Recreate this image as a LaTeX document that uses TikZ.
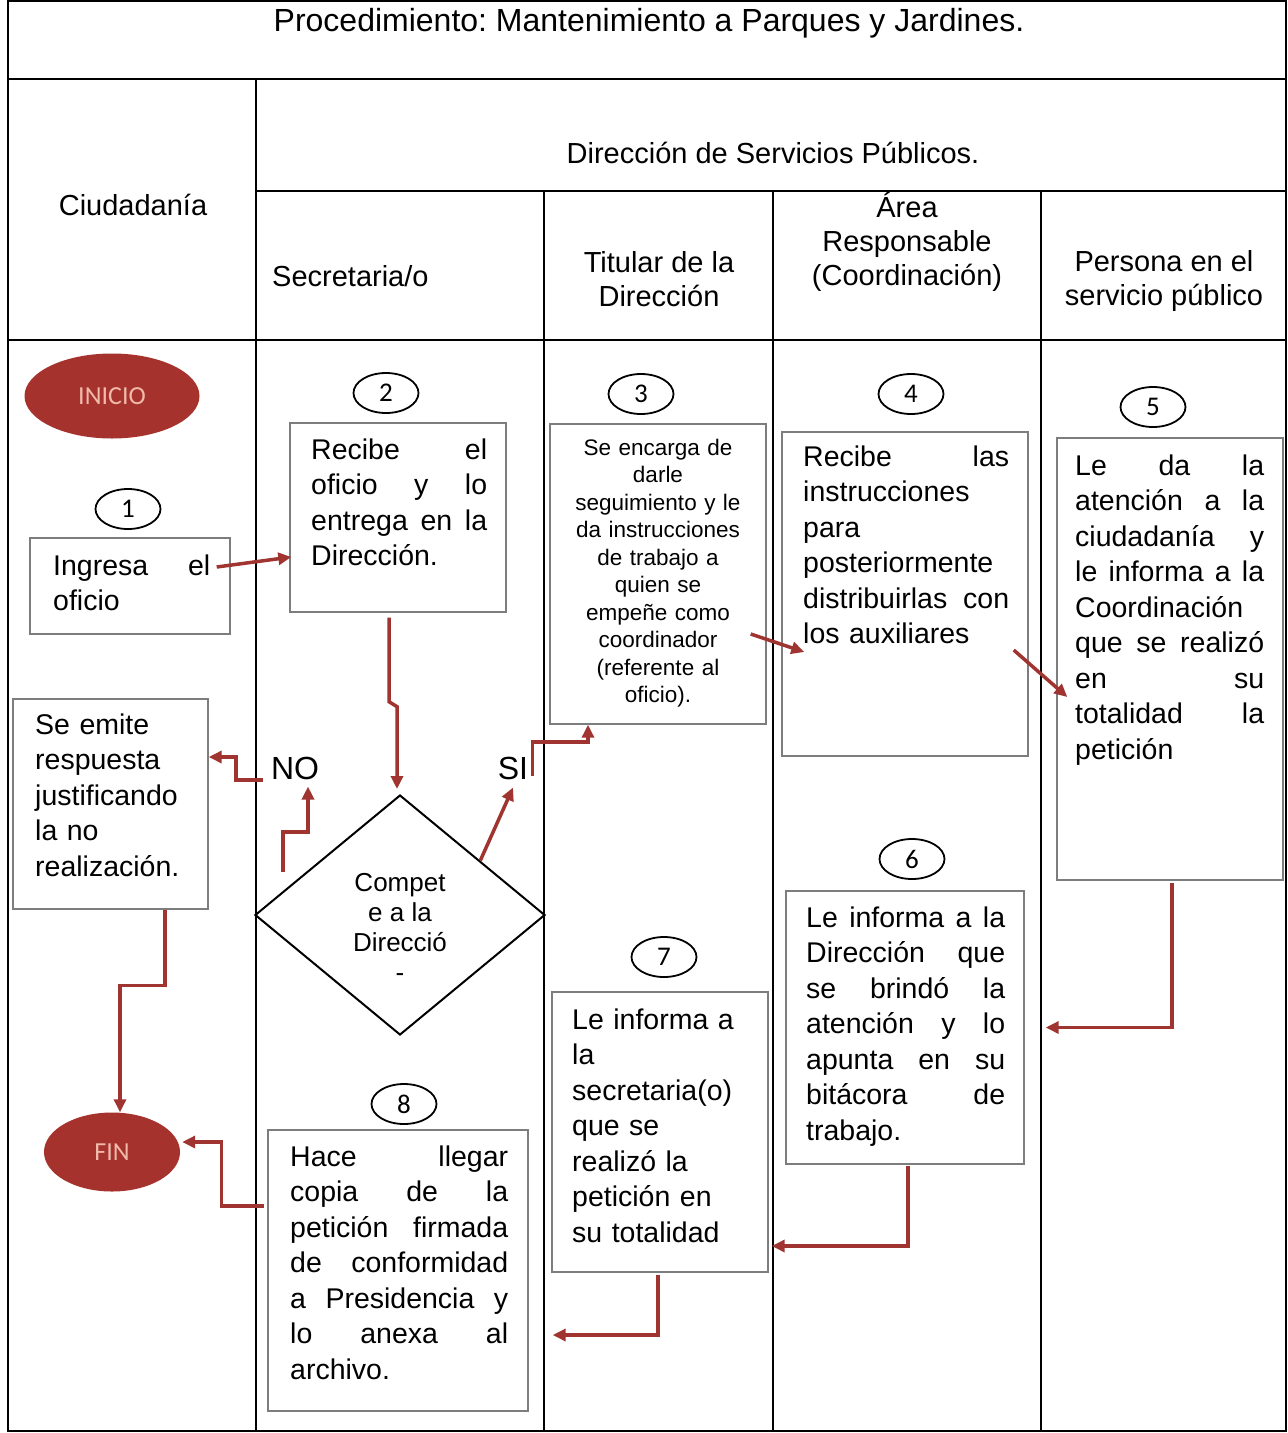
\documentclass[tikz,border=0pt]{standalone}
\usepackage{fontspec}
\setmainfont{Liberation Sans}
\newfontfamily\calib{Carlito}
\usetikzlibrary{arrows.meta,shapes.geometric,calc}
\frenchspacing
\definecolor{arrred}{RGB}{160,52,48}
\definecolor{ovalred}{RGB}{165,50,45}
\definecolor{ovaltext}{RGB}{240,185,170}
\definecolor{boxgray}{RGB}{125,125,125}
\newcommand{\fs}[2]{\fontsize{#1}{#2}\selectfont}
\def\jw{100pt}
\newcommand{\jl}[1]{\leavevmode\hbox to \jw{\spaceskip=0.25em plus 1fil minus 0.05em\relax #1}\\}
\tikzset{
 tline/.style={line width=2pt, draw=black},
 pbox/.style={draw=boxgray, line width=1.4pt, rectangle, inner sep=0pt},
 ptxt/.style={inner sep=0pt, anchor=north west, align=left, font=\fs{28.5}{35.5}, text width=#1, execute at begin node={\def\jw{#1}\strut}},
 stxt/.style={inner sep=0pt, anchor=north, align=center, font=\fs{22.5}{27.5}, execute at begin node=\strut},
 num/.style={ellipse, draw, line width=1.8pt, minimum width=65pt, minimum height=40pt, inner sep=0pt, font=\calib\fs{27}{27}},
 term/.style={ellipse, fill=ovalred, text=ovaltext, inner sep=0pt, font=\calib\fs{26}{26}},
 arr/.style={draw=arrred, line width=3.5pt, -{Triangle[length=13pt,width=12pt]}},
 hdr/.style={font=\fs{29}{34}, align=center, inner sep=0pt},
 lbl/.style={font=\fs{32}{34}, inner sep=0pt},
}
\begin{document}
\begin{tikzpicture}[x=1pt,y=-1pt]
\fill[white] (0,0) rectangle (1288,1433);
\useasboundingbox (0,0) rectangle (1288,1433);
% table
\draw[tline] (8,1) rectangle (1286,1431);
\draw[tline] (8,79) -- (1286,79);
\draw[tline] (256,79) -- (256,1431);
\draw[tline] (256,191) -- (1286,191);
\draw[tline] (8,340) -- (1286,340);
\draw[tline] (544,191) -- (544,1431);
\draw[tline] (773,191) -- (773,1431);
\draw[tline] (1041,191) -- (1041,1431);
% headers
\node[hdr, font=\fs{32}{34}] (title) at (649,23) {Procedimiento: Mantenimiento a Parques y Jardines.};
\node[hdr] (hciu) at (133,205) {Ciudadanía};
\node[hdr] (hdir) at (773,153) {Dirección de Servicios Públicos.};
\node[hdr, anchor=west] (hsec) at (272,276) {Secretaria/o};
\node[hdr] (htit) at (659,279) {Titular de la\\Dirección};
\node[hdr] (hare) at (907,242) {Área\\Responsable\\(Coordinación)};
\node[hdr] (hper) at (1164,281) {Persona en el\\servicio público};
% terminals
\node[term, minimum width=175pt, minimum height=85pt] (inicio) at (112,396) {INICIO};
\node[term, minimum width=136pt, minimum height=79pt] (fin) at (112,1152) {FIN};
% numbers
\node[num] (n1) at (128,509) {1};
\node[num] (n2) at (386,393) {2};
\node[num] (n3) at (641,394) {3};
\node[num] (n4) at (911,394) {4};
\node[num] (n5) at (1153,407) {5};
\node[num] (n6) at (912,859) {6};
\node[num] (n7) at (664,957) {7};
\node[num] (n8) at (404,1104) {8};
% boxes
\node[pbox, minimum width=200pt, minimum height=96pt] (b1) at (130,586) {};
\node[pbox, minimum width=216pt, minimum height=189pt] (b2) at (398,517.5) {};
\node[pbox, minimum width=216pt, minimum height=300pt] (b3) at (658,574) {};
\node[pbox, minimum width=246pt, minimum height=324pt] (b4) at (905,594) {};
\node[pbox, minimum width=226pt, minimum height=442pt] (b5) at (1170,659) {};
\node[pbox, minimum width=195pt, minimum height=210pt] (be) at (110.5,804) {};
\node[pbox, minimum width=238pt, minimum height=273pt] (b6) at (905,1027.5) {};
\node[pbox, minimum width=216pt, minimum height=280pt] (b7) at (660,1132) {};
\node[pbox, minimum width=260pt, minimum height=281pt] (b8) at (398,1270.5) {};
% box texts
\node[ptxt=157pt] (t1) at (53,550) {\jl{Ingresa el}oficio};
\node[ptxt=176pt] (t2) at (311,434) {\jl{Recibe el}\jl{oficio y lo}\jl{entrega en la}Dirección.};
\node[stxt, text width=200pt] (t3) at (658,436) {Se encarga de\\darle\\seguimiento y le\\da instrucciones\\de trabajo a\\quien se\\empeñe como\\coordinador\\(referente al\\oficio).};
\node[ptxt=206pt] (t4) at (803,441) {\jl{Recibe las}instrucciones\\para\\posteriormente\\\jl{distribuirlas con}los auxiliares};
\node[ptxt=189pt] (t5) at (1075,450) {\jl{Le da la}\jl{atención a la}\jl{ciudadanía y}\jl{le informa a la}Coordinación\\\jl{que se realizó}\jl{en su}\jl{totalidad la}petición};
\node[ptxt=170pt] (te) at (35,709) {Se emite\\respuesta\\justificando\\la no\\realización.};
\node[ptxt=199pt] (t6) at (806,902) {\jl{Le informa a la}\jl{Dirección que}\jl{se brindó la}\jl{atención y lo}\jl{apunta en su}\jl{bitácora de}trabajo.};
\node[ptxt=180pt] (t7) at (572,1004) {Le informa a\\la\\secretaria(o)\\que se\\realizó la\\petición en\\su totalidad};
\node[ptxt=218pt] (t8) at (290,1141) {\jl{Hace llegar}\jl{copia de la}\jl{petición firmada}\jl{de conformidad}\jl{a Presidencia y}\jl{lo anexa al}archivo.};
% decision
\node[diamond, draw, line width=2pt, minimum width=290pt, minimum height=240pt, inner sep=0pt, aspect=1.2083] (dia) at (400,915) {};
\node[inner sep=0pt, align=center, font=\fs{26}{30}] (dtext) at (400,927) {Compet\\e a la\\Direcció\\-};
\node[lbl] (no) at (295,768) {NO};
\node[lbl] (si) at (513,768) {SI};
\coordinate (nostart) at (283,872);
% connectors
\draw[arr] ($(b1.east)+(-14,-19)$) -- ($(b2.west)+(2,39.5)$);
\draw[arr] ($(b2.south)+(-9,5)$) -- ++(0,84) -- ++(8,5) -- ($(dia.north)+(-3,-5)$);
\draw[arr] (nostart) -- ++(0,-40) -| ($(no.south)+(13,7)$);
\draw[arr] ($(no.west)+(-8,12)$) -- ++(-27,0) |- ($(be.east)+(0,-47)$);
\draw[arr] ($(dia.north)!0.55!(dia.east)$) -- ($(si.south)+(0,8)$);
\draw[arr] ($(si.east)+(4,8)$) -- ++(0,-34) -| ($(b3.south)+(-70,0)$);
\draw[arr] ($(b3.east)+(-16,60)$) -- ($(b4.west)+(23,58)$);
\draw[arr] ($(b4.east)+(-15,56)$) -- ($(b5.west)+(11,38)$);
\draw[arr] ($(b5.south)+(2,2)$) |- ($(b6.east)+(21,0)$);
\draw[arr] ($(b6.south)+(3,1)$) |- ($(b7.east)+(3,114)$);
\draw[arr] ($(b7.south)+(-2,2)$) |- ($(b8.east)+(24,64.5)$);
\draw[arr] ($(b8.west)+(-3,-64.5)$) -- ++(-43,0) |- ($(fin.east)+(2,-10)$);
\draw[arr] ($(be.south)+(54.5,0)$) -- ++(0,76) -| ($(fin.north)+(8,0)$);
\end{tikzpicture}
\end{document}
